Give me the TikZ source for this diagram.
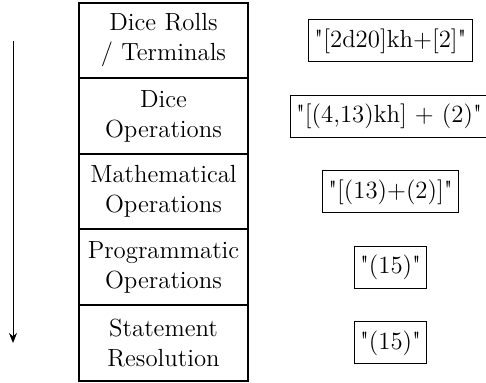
\documentclass[tikz,border=0pt]{standalone}
\usepackage{fontspec}
\usepackage{tikz}
\usetikzlibrary{arrows.meta}

\newcommand{\dq}{\textquotedbl}

\begin{document}
\begin{tikzpicture}[x=0.5pt, y=-0.5pt,
    every node/.style={font=\fontsize{12.4}{15}\selectfont},
    layer/.style={draw, line width=1pt, align=center, text width=78pt,
      minimum width=84.5pt, minimum height=37.8pt, inner sep=0pt},
    sample/.style={draw, line width=0.5pt, inner xsep=3pt, minimum height=21pt}]
    \useasboundingbox (0, 0) rectangle (486, 383);

    \node [layer] (l1) at (163.5, 40.5) {Dice Rolls\\/ Terminals};
    \node [layer] (l2) at (163.5, 116) {Dice\\Operations};
    \node [layer] (l3) at (163.5, 191.5) {Mathematical\\Operations};
    \node [layer] (l4) at (163.5, 267) {Programmatic\\Operations};
    \node [layer] (l5) at (163.5, 343) {Statement\\Resolution};

    \node [sample] (s1) at (390.5, 41) {\dq[2d20]kh+[2]\dq};
    \node [sample] (s2) at (389, 116.5) {\dq[(4,13)kh] + (2)\dq};
    \node [sample] (s3) at (390.5, 192) {\dq[(13)+(2)]\dq};
    \node [sample] (s4) at (390.5, 267.5) {\dq(15)\dq};
    \node [sample] (s5) at (390.5, 343) {\dq(15)\dq};

    \coordinate (top) at (13, 41);
    \coordinate (bottom) at (13, 343);
    \draw [-{Stealth[length=5pt, width=4pt]}, line width=0.5pt] (top) -- (bottom);
\end{tikzpicture}
\end{document}
